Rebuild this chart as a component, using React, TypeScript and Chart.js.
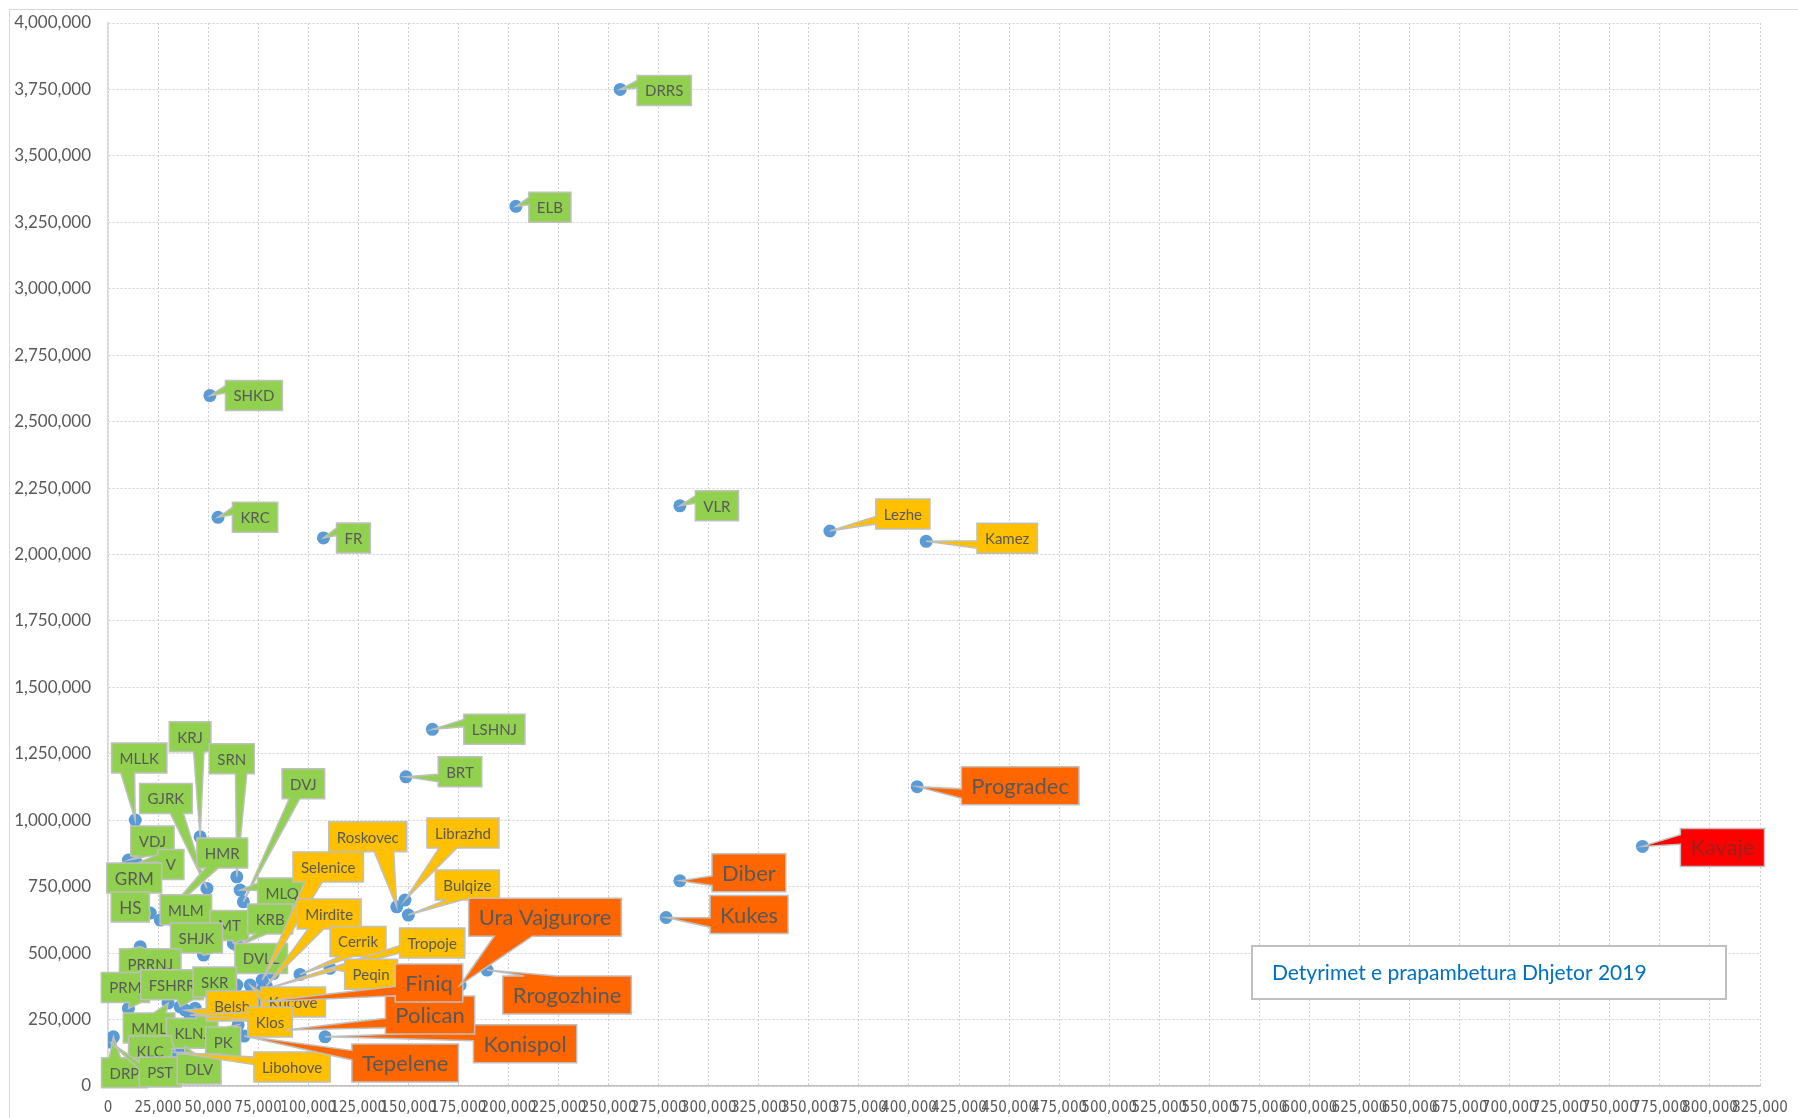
import React, { useEffect, useRef } from "react";
import { Chart, registerables } from "chart.js";

Chart.register(...registerables);

// ---- data ----
const NAMES = [
  "DRRS", "ELB", "SHKD", "KRC", "FR", "VLR", "LSHNJ", "BRT", "MLLK", "KRJ", "SRN", "GJRK", "DVJ",
  "VDJ", "V", "HMR", "GRM", "MLQ", "HS", "MLM", "MT", "KRB", "SHJK", "DVLL", "PRRNJ", "PRM",
  "FSHRR", "SKR", "MML", "KLNJ", "PK", "KLC", "DRP", "PST", "DLV",
  "Lezhe", "Kamez", "Roskovec", "Librazhd", "Bulqize", "Selenice", "Belsh", "Mirdite", "Cerrik",
  "Tropoje", "Peqin", "Kucove", "Klos", "Libohove",
  "Progradec", "Diber", "Kukes", "Rrogozhine", "Konispol", "Tepelene", "Polican", "Finiq", "Ura Vajgurore",
  "Kavaje",
];

const X_VALUES = [
  255800, 203700, 50900, 54950, 107600, 285600, 162000, 148800, 13600, 46000, 64300, 49400, 67600,
  10200, 14400, 26100, 15100, 66000, 21100, 36900, 62600, 65000, 47700, 82500, 16100, 10200,
  36000, 64300, 30000, 43500, 65000, 33500, 2700, 1100, 38500,
  360500, 408600, 144200, 148300, 150000, 77000, 38500, 79000, 95900,
  77000, 110900, 71000, 41000, 32000,
  404100, 285600, 278700, 189300, 108400, 68000, 88400, 75900, 175800,
  766300,
];

const Y_VALUES = [
  3750000, 3310000, 2598000, 2140000, 2062500, 2183300, 1342000, 1163500, 1000600, 937700, 787200, 743600, 693100,
  850100, 837600, 624300, 820000, 737200, 650600, 561400, 536600, 526700, 492600, 423000, 523800, 292000,
  298000, 379700, 312000, 293000, 230000, 135000, 185100, 165200, 150100,
  2088500, 2049700, 674300, 699600, 643200, 398500, 285600, 376000, 419700,
  360900, 442700, 379700, 266800, 127600,
  1126300, 772200, 634100, 436200, 185100, 187800, 210400, 315700, 379300,
  901600,
];

// label group: 0 green, 1 yellow, 2 orange, 3 red
const GROUPS = [
  0, 0, 0, 0, 0, 0, 0, 0, 0, 0, 0, 0, 0,
  0, 0, 0, 0, 0, 0, 0, 0, 0, 0, 0, 0, 0,
  0, 0, 0, 0, 0, 0, 0, 0, 0,
  1, 1, 1, 1, 1, 1, 1, 1, 1,
  1, 1, 1, 1, 1,
  2, 2, 2, 2, 2, 2, 2, 2, 2,
  3,
];

const TITLE = "Detyrimet e prapambetura Dhjetor 2019";

const X_MIN = 0;
const X_MAX = 825000;
const X_STEP = 25000;
const Y_MIN = 0;
const Y_MAX = 4000000;
const Y_STEP = 250000;

// ---- label layout (pixel offsets of the callout box centre from its point) ----
const LABEL_DX = [
  44, 34, 44, 37, 30, 37, 62, 54, 4, -10, -5, -41, 60,
  24, 34, 62, -4, 42, -20, 4, -4, 32, -7, -12, 10, -3,
  -8, -22, -19, -3, -15, -25, 11, 50, 14,
  73, 81, -29, 58, 59, 66, 47, 63, 58,
  170, 41, 43, 80, 120,
  103, 69, 83, 80, 200, 161, 145, 169, 85,
  80,
];
const LABEL_DY = [
  1, 1, 0, 0, 0, 0, 0, -5, -62, -100, -118, -90, -118,
  -19, 1, -67, 10, 3, -6, -27, -18, -27, -17, -15, 17, -21,
  -22, -3, 25, 25, 17, 1, 36, 30, 23,
  -17, -3, -70, -67, -30, -113, -4, -72, -33,
  -47, 6, 17, 7, 15,
  -1, -8, -3, 25, 7, 27, -15, -19, -68,
  1,
];
const LARGE_SMALL = ["GRM", "HS"];

const FILLS = ["#92D050", "#FFC000", "#FF6600", "#FF0000"];
const TEXT_COLORS = ["#595959", "#595959", "#595959", "#9a1f1f"];
const LABEL_FONT = 'Lato, "Open Sans", sans-serif';

function calloutPath(
  ctx: CanvasRenderingContext2D,
  l: number, t: number, w: number, h: number, tx: number, ty: number
) {
  const r = l + w;
  const b = t + h;
  const cx = l + w / 2;
  const cy = t + h / 2;
  const dxPos = (tx - cx) / w;
  const dyPos = (ty - cy) / h;
  const inside = tx >= l && tx <= r && ty >= t && ty <= b;
  const horiz = Math.abs(dxPos) > Math.abs(dyPos);
  const xb1 = l + (w * (dxPos > 0 ? 7 : 2)) / 12;
  const xb2 = l + (w * (dxPos > 0 ? 10 : 5)) / 12;
  const yb1 = t + (h * (dyPos > 0 ? 7 : 2)) / 12;
  const yb2 = t + (h * (dyPos > 0 ? 10 : 5)) / 12;
  ctx.beginPath();
  ctx.moveTo(l, t);
  if (!inside && !horiz && dyPos < 0) {
    ctx.lineTo(xb1, t);
    ctx.lineTo(tx, ty);
    ctx.lineTo(xb2, t);
  }
  ctx.lineTo(r, t);
  if (!inside && horiz && dxPos > 0) {
    ctx.lineTo(r, yb1);
    ctx.lineTo(tx, ty);
    ctx.lineTo(r, yb2);
  }
  ctx.lineTo(r, b);
  if (!inside && !horiz && dyPos > 0) {
    ctx.lineTo(xb2, b);
    ctx.lineTo(tx, ty);
    ctx.lineTo(xb1, b);
  }
  ctx.lineTo(l, b);
  if (!inside && horiz && dxPos < 0) {
    ctx.lineTo(l, yb2);
    ctx.lineTo(tx, ty);
    ctx.lineTo(l, yb1);
  }
  ctx.closePath();
}

const calloutPlugin = {
  id: "callouts",
  afterDatasetsDraw(chart: any) {
    const ctx: CanvasRenderingContext2D = chart.ctx;
    const meta = chart.getDatasetMeta(0);
    ctx.save();
    for (let i = 0; i < NAMES.length; i++) {
      const el = meta.data[i];
      if (!el) continue;
      const px = el.x;
      const py = el.y;
      const g = GROUPS[i];
      const big = g >= 2;
      const fs = big ? 22 : LARGE_SMALL.includes(NAMES[i]) ? 17 : 15;
      ctx.font = `${fs}px ${LABEL_FONT}`;
      const tw = ctx.measureText(NAMES[i]).width;
      const padX = big ? 10 : 8;
      const h = big ? 38 : 30;
      const w = tw + padX * 2;
      const cx = px + LABEL_DX[i];
      const cy = py + LABEL_DY[i];
      const l = cx - w / 2;
      const t = cy - h / 2;
      calloutPath(ctx, l, t, w, h, px, py);
      ctx.fillStyle = FILLS[g];
      ctx.fill();
      ctx.lineWidth = 1.5;
      ctx.strokeStyle = "#bfbfbf";
      ctx.lineJoin = "miter";
      ctx.stroke();
      ctx.fillStyle = TEXT_COLORS[g];
      ctx.textAlign = "center";
      ctx.textBaseline = "middle";
      ctx.fillText(NAMES[i], cx, cy + 1);
    }

    // title box inside the plot
    const ca = chart.chartArea;
    const bl = ca.left + 1144;
    const bt = ca.top + 923;
    const bw = 474;
    const bh = 53;
    ctx.fillStyle = "#ffffff";
    ctx.fillRect(bl, bt, bw, bh);
    ctx.lineWidth = 2;
    ctx.strokeStyle = "#bfbfbf";
    ctx.strokeRect(bl, bt, bw, bh);
    ctx.font = `21px ${LABEL_FONT}`;
    ctx.fillStyle = "#0070C0";
    ctx.textAlign = "left";
    ctx.textBaseline = "middle";
    ctx.fillText(TITLE, bl + 20, bt + bh / 2 + 1);

    // chart-area frame (left and top edges)
    ctx.strokeStyle = "#d9d9d9";
    ctx.lineWidth = 1;
    ctx.beginPath();
    ctx.moveTo(1.5, chart.height);
    ctx.lineTo(1.5, 1.5);
    ctx.lineTo(chart.width, 1.5);
    ctx.stroke();
    ctx.restore();
  },
};

const fmt = (v: any) => Number(v).toLocaleString("en-US");

export default function App() {
  const canvasRef = useRef<HTMLCanvasElement | null>(null);

  useEffect(() => {
    const canvas = canvasRef.current;
    if (!canvas) return;
    const points = X_VALUES.map((x, i) => ({ x, y: Y_VALUES[i] }));
    const chart = new Chart(canvas, {
      type: "scatter",
      data: {
        datasets: [
          {
            label: TITLE,
            data: points,
            pointRadius: 6.5,
            pointHoverRadius: 6.5,
            pointBackgroundColor: "#5B9BD5",
            pointBorderColor: "#5B9BD5",
            pointBorderWidth: 0,
          },
        ],
      },
      options: {
        responsive: false,
        maintainAspectRatio: false,
        animation: false,
        layout: { padding: { top: 15, right: 38, left: 0, bottom: 0 } },
        plugins: {
          legend: { display: false },
          tooltip: { enabled: false },
          title: { display: false },
        },
        scales: {
          x: {
            type: "linear",
            min: X_MIN,
            max: X_MAX,
            afterFit: (scale: any) => {
              scale.height = 32;
              scale.paddingLeft = 0;
              scale.paddingRight = 0;
            },
            ticks: {
              stepSize: X_STEP,
              autoSkip: false,
              maxRotation: 0,
              minRotation: 0,
              padding: 13,
              color: "#595959",
              font: { family: '"Liberation Sans Narrow", "DejaVu Sans Condensed", sans-serif', size: 15 },
              callback: fmt,
            },
            grid: { color: "#d0d0d0", lineWidth: 1, drawTicks: false },
            border: { display: true, color: "#bfbfbf", width: 1.5, dash: [2, 2] },
          },
          y: {
            type: "linear",
            min: Y_MIN,
            max: Y_MAX,
            afterFit: (scale: any) => {
              scale.width = 100;
              scale.paddingTop = 0;
              scale.paddingBottom = 0;
            },
            ticks: {
              stepSize: Y_STEP,
              padding: 17,
              color: "#595959",
              font: { family: LABEL_FONT, size: 17 },
              callback: fmt,
            },
            grid: { color: "#d0d0d0", lineWidth: 1, drawTicks: false },
            border: { display: true, color: "#d9d9d9", width: 1.5, dash: [2, 2] },
          },
        },
      },
      plugins: [calloutPlugin],
    });
    return () => chart.destroy();
  }, []);

  return (
    <div
      style={{
        position: "fixed",
        left: 0,
        top: 0,
        width: 1798,
        height: 1118,
        overflow: "hidden",
        background: "#ffffff",
      }}
    >
      <canvas
        ref={canvasRef}
        width={1790}
        height={1110}
        style={{ position: "absolute", left: 8, top: 8, width: 1790, height: 1110 }}
      />
    </div>
  );
}
